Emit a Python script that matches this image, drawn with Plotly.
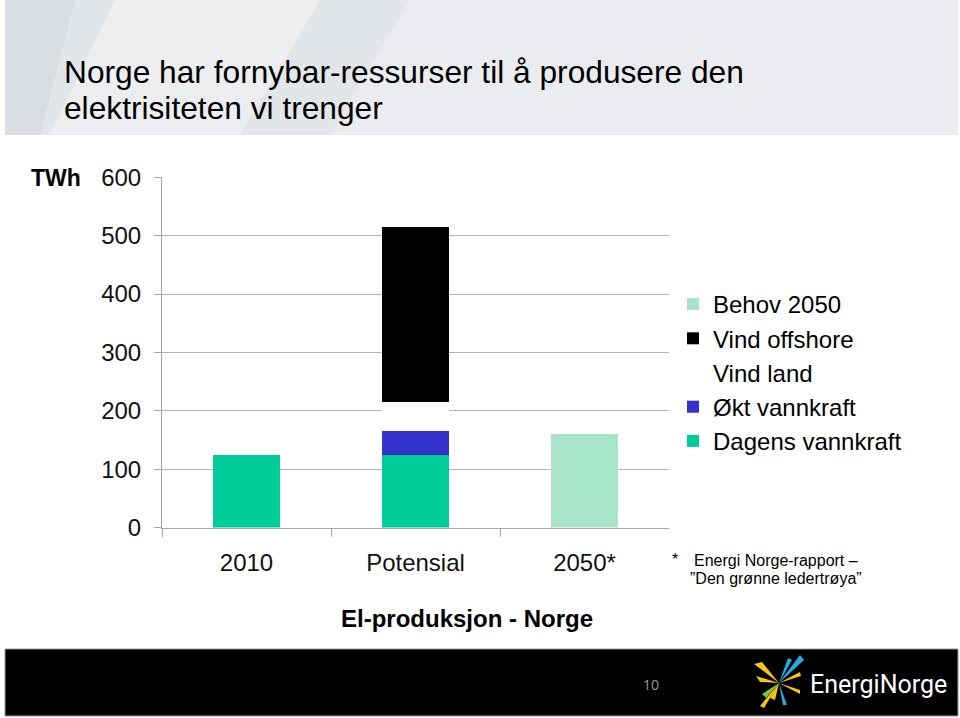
import plotly.graph_objects as go

categories = ["2010", "Potensial", "2050*"]
dagens_vannkraft = [125, 125, None]
okt_vannkraft = [None, 40, None]
vind_land = [None, 50, None]
vind_offshore = [None, 300, None]
behov_2050 = [None, None, 160]
y_ticks = [0, 100, 200, 300, 400, 500, 600]

series = [
    ("Dagens vannkraft", dagens_vannkraft, "#00cc99"),
    ("Økt vannkraft", okt_vannkraft, "#3333cc"),
    ("Vind land", vind_land, "#ffffff"),
    ("Vind offshore", vind_offshore, "#000000"),
    ("Behov 2050", behov_2050, "#a8e4cc"),
]

W, H = 960, 718
fig = go.Figure()
for i, (name, vals, col) in enumerate(series):
    fig.add_trace(go.Bar(x=categories, y=vals, name=name, legendrank=1000 - i,
                         marker=dict(color=col, line=dict(width=0))))

def px(x):
    return x / W

def py(y):
    return 1 - y / H

TXT = "Liberation Sans, Arial, sans-serif"
shapes = []
# header background
shapes.append(dict(type="rect", xref="paper", yref="paper", x0=px(5), x1=px(958), y0=py(135), y1=1,
                   fillcolor="#e3e6e9", line=dict(width=0), layer="below"))
shapes.append(dict(type="path", xref="paper", yref="paper",
                   path=f"M{px(5)},{py(0)} L{px(75)},{py(0)} L{px(40)},{py(135)} L{px(5)},{py(135)} Z",
                   fillcolor="#d9dce0", line=dict(width=0), layer="below"))
shapes.append(dict(type="path", xref="paper", yref="paper",
                   path=f"M{px(115)},{py(0)} L{px(320)},{py(0)} L{px(240)},{py(135)} L{px(50)},{py(135)} Z",
                   fillcolor="#eceef0", line=dict(width=0), layer="below"))
shapes.append(dict(type="path", xref="paper", yref="paper",
                   path=f"M{px(410)},{py(0)} L{px(958)},{py(0)} L{px(958)},{py(135)} L{px(330)},{py(135)} Z",
                   fillcolor="#eaecef", line=dict(width=0), layer="below"))
# bottom black band
shapes.append(dict(type="rect", xref="paper", yref="paper", x0=px(5), x1=px(958), y0=py(716), y1=py(649),
                   fillcolor="#000000", line=dict(width=1, color="#9a9a9a"), layer="below"))
# logo starburst
cx, cy = 779, 683
rays = [
    ((cx, cy), (754, 664), (762, 662), "#f5c518"),
    ((cx, cy), (756, 676), (760, 682), "#f5c518"),
    ((cx, cy), (770, 698), (775, 700), "#f5c518"),
    ((cx, cy), (760, 706), (764, 708), "#f5c518"),
    ((cx, cy), (762, 694), (766, 698), "#7ac143"),
    ((cx, cy), (788, 658), (792, 660), "#29abe2"),
    ((cx, cy), (800, 655), (804, 660), "#29abe2"),
    ((cx, cy), (783, 705), (787, 705), "#29abe2"),
    ((cx, cy), (800, 690), (800, 694), "#f5c518"),
    ((cx, cy), (800, 672), (801, 676), "#f5c518"),
]
for a, b, c, col in rays:
    shapes.append(dict(type="path", xref="paper", yref="paper",
                       path=f"M{px(a[0])},{py(a[1])} L{px(b[0])},{py(b[1])} L{px(c[0])},{py(c[1])} Z",
                       fillcolor=col, line=dict(width=0)))

def ann(text, x, y, size, xanchor="left", color="#000000", family=TXT, align="left", yanchor="middle"):
    return dict(text=text, x=px(x), y=py(y), xref="paper", yref="paper", xanchor=xanchor, yanchor=yanchor,
                align=align, showarrow=False, font=dict(family=family, size=size, color=color))

annotations = [
    ann("Norge har fornybar-ressurser til å produsere den", 62, 72, 31.7),
    ann("elektrisiteten vi trenger", 62, 108, 31.7),
    ann("<b>TWh</b>", 29, 178, 23),
    ann("<b>El-produksjon - Norge</b>", 467, 618, 24, xanchor="center"),
    ann("*", 670, 559, 16),
    ann("Energi Norge-rapport –", 776, 560, 16, xanchor="center"),
    ann("”Den grønne ledertrøya”", 776, 578, 16, xanchor="center"),
    ann("10", 651, 684, 14, xanchor="center", color="#9a9a9a", family="Open Sans, sans-serif"),
    ann("EnergiNorge", 808, 684, 25, color="#ffffff", family="Roboto, sans-serif"),
]

fig.update_layout(
    width=W, height=H, margin=dict(l=0, r=0, t=0, b=0, autoexpand=False),
    paper_bgcolor="#ffffff", plot_bgcolor="#ffffff",
    barmode="stack", bargap=0.6,
    font=dict(family=TXT, color="#000000"),
    shapes=shapes, annotations=annotations,
    legend=dict(x=px(673), y=py(282), xanchor="left", yanchor="top", traceorder="normal",
                font=dict(family=TXT, size=24, color="#000000"), bgcolor="rgba(0,0,0,0)",
                itemwidth=30),
    xaxis=dict(domain=[px(162), px(669)], showgrid=False, showline=True, linecolor="#a6a6a6", linewidth=1,
               ticks="outside", tickson="boundaries", ticklen=8, tickcolor="#a6a6a6", automargin=False,
               tickfont=dict(family=TXT, size=24, color="#111111"), ticklabelstandoff=14),
    yaxis=dict(domain=[py(527.5), py(177.3)], range=[0, 600], tickvals=y_ticks, showgrid=True,
               gridcolor="#b5b5b5", gridwidth=1, showline=True, linecolor="#a6a6a6", linewidth=1,
               ticks="outside", ticklen=7, tickcolor="#a6a6a6", zeroline=False, automargin=False,
               tickfont=dict(family=TXT, size=24, color="#111111"), ticklabelstandoff=8),
)

fig.write_html("out.html")
